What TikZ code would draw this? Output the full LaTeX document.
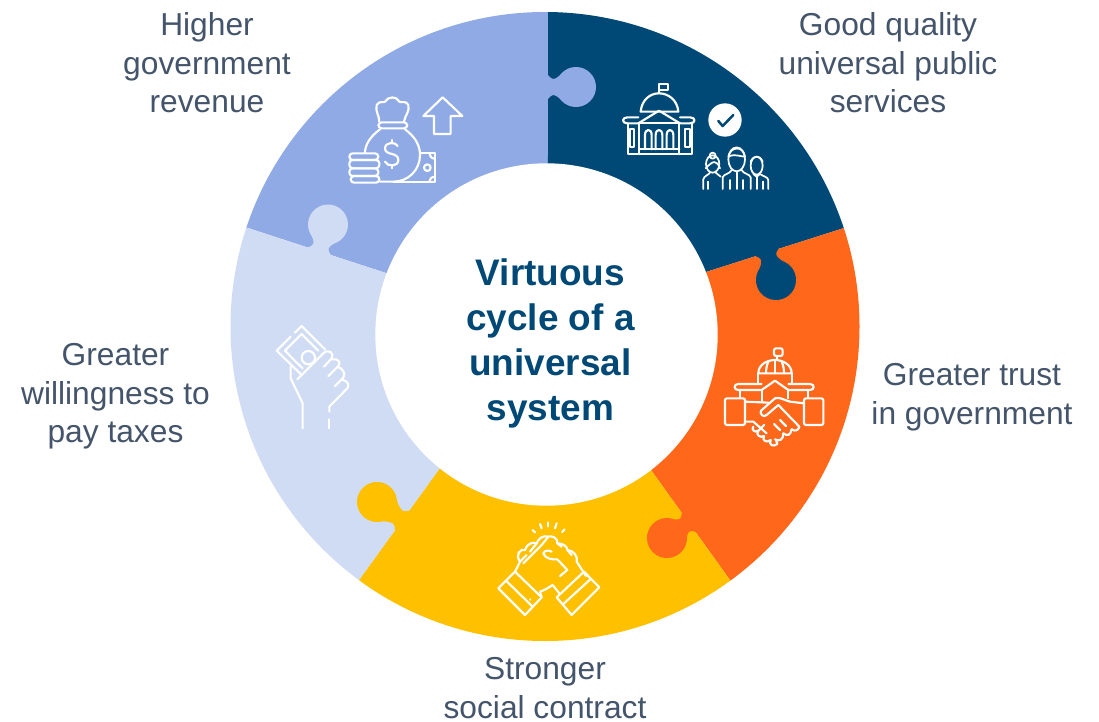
\documentclass[tikz,border=0pt]{standalone}
\usepackage{fontspec}
\setmainfont{Liberation Sans}
\definecolor{periwinkle}{HTML}{8FAAE5}
\definecolor{navyblue}{HTML}{004976}
\definecolor{trustorange}{HTML}{FF671B}
\definecolor{socialyellow}{HTML}{FFC000}
\definecolor{paleblue}{HTML}{D0DBF4}
\definecolor{labelgrey}{HTML}{44546A}
\tikzset{
  cyclelabel/.style={text=labelgrey,align=center,inner sep=0pt,font=\fontsize{23.8}{28.9}\selectfont},
  hublabel/.style={text=navyblue,align=center,inner sep=0pt,font=\fontsize{27.7}{33.75}\selectfont\bfseries},
  icon/.style={draw=white,line width=1.6pt,line cap=round,line join=round},
  thinicon/.style={draw=white,line width=1.3pt,line cap=round,line join=round}
}
\begin{document}
\begin{tikzpicture}[x=0.75pt,y=-0.75pt]
\useasboundingbox (0,0) rectangle (1099,721);
% ring pieces
\begin{scope}
  \clip (545,326.5) circle (314.5);
  \fill[periwinkle] (546,326)--(386,273)--(248,228)--(193,210)--(190,-10)--(548,-10)--(548,155)--cycle;
  \fill[navyblue] (546,326)--(548,155)--(548,-10)--(900,-10)--(899,210)--(844,228)--(706,272)--cycle;
  \fill[trustorange] (546,326)--(706,272)--(844,228)--(899,210)--(900,613)--(754,613)--(730,580)--(651,470)--cycle;
  \fill[socialyellow] (546,326)--(651,470)--(730,580)--(754,613)--(754,660)--(335,660)--(335,614)--(359,580)--(440,468)--cycle;
  \fill[paleblue] (546,326)--(440,468)--(359,580)--(335,614)--(190,614)--(193,210)--(248,228)--(386,273)--cycle;
\end{scope}
% knobs
\foreach \kx/\ky/\kang/\kd/\kcol in {576/87/90/28/periwinkle,776/280/18/29/navyblue,667/538/-54/27/trustorange,377/502/-126/31/socialyellow,328/224.5/162/28/paleblue}{
  \begin{scope}[shift={(\kx,\ky)},rotate=\kang]
    \fill[\kcol] (12,{-\kd-1})--(12,-\kd) .. controls (10,{-\kd+2}) and (8,{-\kd+3}) .. (8,{-\kd+5}) .. controls (8,{-\kd+8}) and (11,-16.5) .. (14.14,-14.14)
      arc (-45:225:20) .. controls (-11,-16.5) and (-8,{-\kd+8}) .. (-8,{-\kd+5}) .. controls (-8,{-\kd+3}) and (-10,{-\kd+2}) .. (-12,-\kd)--(-12,{-\kd-1})--cycle;
  \end{scope}
}
\fill[white] (546.5,334.5) circle (171.2);
% labels
\node[hublabel] (hub) at (550.5,343.5) {Virtuous\\cycle of a\\universal\\system};
\node[cyclelabel] (hgov) at (207,63) {Higher\\government\\revenue};
\node[cyclelabel] (gq) at (888,63) {Good quality\\universal public\\services};
\node[cyclelabel] (trust) at (972,397) {Greater trust\\in government};
\node[cyclelabel] (social) at (545,688) {Stronger\\social contract};
\node[cyclelabel] (willing) at (115.5,396.5) {Greater\\willingness to\\pay taxes};
% money bag and arrow
\begin{scope}[shift={(330,70)},scale=1/3]
  \draw[icon] (148,155) .. controls (148,135) and (135,125) .. (140,105) .. controls (150,90) and (160,100) .. (165,95) .. controls (175,78) and (200,78) .. (208,95) .. controls (215,100) and (228,90) .. (235,105) .. controls (240,125) and (225,135) .. (222,155);
  \draw[icon,rounded corners=2.5pt] (145,157) rectangle (232,175);
  \draw[icon] (150,178) .. controls (120,200) and (105,225) .. (105,248);
  \draw[icon] (225,178) .. controls (255,200) and (270,225) .. (270,255) .. controls (270,300) and (235,335) .. (190,335)--(150,335);
  \draw[icon] (203,228) .. controls (198,215) and (165,215) .. (165,235) .. controls (165,258) and (205,245) .. (205,270) .. controls (205,292) and (170,290) .. (165,275);
  \draw[icon] (185,210)--(185,220);
  \draw[icon] (185,285)--(185,295);
  \draw[icon,rounded corners=2.5pt] (58,250) rectangle (145,270);
  \draw[icon,rounded corners=2.5pt] (58,270) rectangle (148,295);
  \draw[icon,rounded corners=2.5pt] (58,295) rectangle (145,318);
  \draw[icon,rounded corners=2.5pt] (62,318) rectangle (148,338);
  \draw[icon] (272,250)--(315,250)--(315,335)--(190,335);
  \draw[icon] (292,293) circle (10);
  \draw[icon] (298,250) .. controls (298,258) and (305,266) .. (315,266);
  \draw[icon] (298,335) .. controls (298,327) and (305,320) .. (315,320);
  \draw[icon] (338,82)--(397,138)--(362,138)--(362,192)--(312,192)--(312,138)--(280,138)--cycle;
\end{scope}
% capitol, check mark and people
\begin{scope}[shift={(540,60)},scale=1/3]
  \draw[icon] (357,100)--(357,72)--(383,72)--(383,90)--(357,90);
  \draw[icon] (302,155) .. controls (305,120) and (330,100) .. (357,100) .. controls (385,100) and (412,120) .. (415,155)--cycle;
  \draw[icon] (295,172)--(262,172) .. controls (245,172) and (245,190) .. (262,190)--(295,190)--(357,152)--(420,190)--(450,190) .. controls (468,190) and (468,172) .. (450,172)--(420,172);
  \draw[icon] (295,190)--(420,190);
  \draw[icon] (265,190)--(265,282)--(455,282)--(455,190);
  \draw[icon] (298,190)--(298,282);
  \draw[icon] (418,190)--(418,282);
  \draw[icon] (298,268)--(418,268);
  \draw[icon] (315,268)--(315,225) .. controls (315,205) and (335,205) .. (335,225)--(335,268);
  \draw[icon] (347,268)--(347,225) .. controls (347,205) and (367,205) .. (367,225)--(367,268);
  \draw[icon] (380,268)--(380,225) .. controls (380,205) and (400,205) .. (400,225)--(400,268);
  \draw[icon] (270,208) rectangle (282,262);
  \draw[icon] (436,208) rectangle (450,262);
  \fill[white] (555,180) circle (50);
  \draw[navyblue,line width=1.9pt,line cap=round,line join=round] (535,183)--(548,198)--(580,165);
  \draw[thinicon] (518,312) ellipse (20 and 26);
  \draw[thinicon] (518,287) circle (9);
  \draw[thinicon] (497,325) .. controls (520,300) and (530,300) .. (540,325);
  \draw[thinicon] (490,387)--(490,358) .. controls (492,348) and (505,345) .. (510,338);
  \draw[thinicon] (527,338) .. controls (532,345) and (540,345) .. (542,350);
  \draw[thinicon] (505,387)--(505,365);
  \draw[thinicon] (590,298) ellipse (25 and 36);
  \draw[thinicon] (565,290) .. controls (570,260) and (610,255) .. (615,290) .. controls (600,290) and (585,280) .. (565,290);
  \draw[thinicon] (548,387)--(548,352) .. controls (550,342) and (570,342) .. (575,330);
  \draw[thinicon] (605,330) .. controls (610,342) and (630,342) .. (632,352)--(632,387);
  \draw[thinicon] (570,387)--(570,360);
  \draw[thinicon] (610,387)--(610,360);
  \draw[thinicon] (590,338)--(590,387);
  \draw[thinicon] (650,317) ellipse (18 and 27);
  \draw[thinicon] (632,305) .. controls (640,285) and (660,285) .. (668,305);
  \draw[thinicon] (640,342)--(650,350)--(660,342) .. controls (670,350) and (685,350) .. (685,362)--(685,387);
  \draw[thinicon] (650,350)--(650,387);
  \draw[thinicon] (668,387)--(668,365);
\end{scope}
% handshake under a dome
\begin{scope}[shift={(700,220)},scale=1/3]
  \draw[icon] (232,420)--(232,408);
  \draw[icon,rounded corners=1.5pt] (222,385) rectangle (248,408);
  \draw[icon] (175,460) .. controls (175,435) and (200,420) .. (225,420) .. controls (250,420) and (275,435) .. (275,460)--cycle;
  \draw[icon] (175,460)--(175,488);
  \draw[icon] (275,460)--(275,488);
  \draw[icon] (205,425) .. controls (200,435) and (198,448) .. (198,460);
  \draw[icon] (225,420)--(225,460);
  \draw[icon] (245,425) .. controls (250,435) and (252,448) .. (252,460);
  \draw[icon] (185,492)--(115,492) .. controls (100,492) and (100,510) .. (115,510)--(185,510)--(225,482)--(265,510)--(330,510) .. controls (345,510) and (345,492) .. (330,492)--(265,492);
  \draw[icon] (120,510)--(120,532);
  \draw[icon] (185,510)--(185,545);
  \draw[icon] (265,510)--(265,535);
  \draw[icon] (325,510)--(325,532);
  \draw[icon,rounded corners=1.5pt] (75,535) rectangle (135,615);
  \draw[icon,rounded corners=1.5pt] (312,535) rectangle (370,615);
  \draw[icon] (135,545)--(205,548);
  \draw[icon] (312,550)--(270,545) .. controls (250,540) and (240,530) .. (225,535)--(183,572) .. controls (178,580) and (190,595) .. (200,585)--(235,555)--(298,620);
  \draw[icon] (135,605)--(160,605)--(200,640);
  \draw[icon] (298,620) .. controls (295,632) and (285,635) .. (275,628);
  \draw[icon] (275,628) .. controls (272,645) and (262,650) .. (250,640);
  \draw[icon] (250,640) .. controls (250,660) and (238,665) .. (225,658);
  \draw[icon] (160,620) .. controls (152,628) and (165,640) .. (175,632)--(192,615);
  \draw[icon] (175,632) .. controls (165,645) and (182,655) .. (192,648);
  \draw[icon] (192,648) .. controls (185,662) and (200,670) .. (212,660);
  \draw[icon] (212,660) .. controls (205,675) and (220,682) .. (232,672)--(228,660);
  \draw[icon] (240,630)--(222,612);
  \draw[icon] (258,618)--(240,600);
\end{scope}
% clasped hands
\begin{scope}[shift={(480,510)},scale=1/3]
  \draw[icon] (55,235)--(105,185)--(185,262)--(135,315)--cycle;
  \draw[icon] (78,212)--(158,290);
  \draw[icon] (230,262)--(312,185)--(358,232)--(275,315)--cycle;
  \draw[icon] (250,282)--(332,207);
  \draw[icon] (150,268)--(151,269);
  \draw[icon] (105,185)--(120,155) .. controls (105,135) and (120,115) .. (135,120) .. controls (140,100) and (160,95) .. (170,100) .. controls (175,85) and (190,75) .. (205,80) .. controls (215,75) and (235,85) .. (232,100) .. controls (250,100) and (262,110) .. (262,120) .. controls (280,120) and (295,140) .. (290,155)--(318,198);
  \draw[icon] (120,155)--(140,135);
  \draw[icon] (170,100)--(150,125);
  \draw[icon] (205,80)--(185,105)--(130,160);
  \draw[icon] (232,100)--(245,110);
  \draw[icon] (262,120)--(275,135);
  \draw[icon] (240,198)--(262,180)--(232,148) .. controls (215,150) and (195,145) .. (190,130) .. controls (195,120) and (205,120) .. (215,125);
  \draw[icon] (185,262)--(180,245) .. controls (195,240) and (210,230) .. (218,225)--(238,250);
  \draw[icon] (158,60)--(165,67);
  \draw[icon] (180,42)--(185,55);
  \draw[icon] (205,37)--(205,50);
  \draw[icon] (230,40)--(225,55);
  \draw[icon] (254,58)--(246,66);
\end{scope}
% hand holding a banknote
\begin{scope}[shift={(260,190)},scale=1/3]
  \draw[icon] (92,440)--(50,482)--(125,555);
  \draw[icon] (105,428)--(125,408)--(195,478);
  \draw[icon] (75,482)--(125,432)--(175,482);
  \draw[icon] (75,482)--(120,528);
  \draw[icon] (145,503) circle (20);
  \draw[icon] (92,530)--(92,565)--(128,640)--(128,715);
  \draw[icon] (208,688)--(208,715);
  \draw[icon] (208,665)--(208,650)--(262,595) .. controls (270,585) and (262,572) .. (248,570);
  \draw[icon] (225,588)--(250,563) .. controls (258,550) and (248,535) .. (232,530);
  \draw[icon] (205,558)--(235,528) .. controls (245,515) and (232,505) .. (215,508);
  \draw[icon] (192,530)--(215,505) .. controls (225,490) and (205,475) .. (190,490)--(112,568);
  \draw[icon] (115,522)--(128,535);
\end{scope}
\end{tikzpicture}
\end{document}
